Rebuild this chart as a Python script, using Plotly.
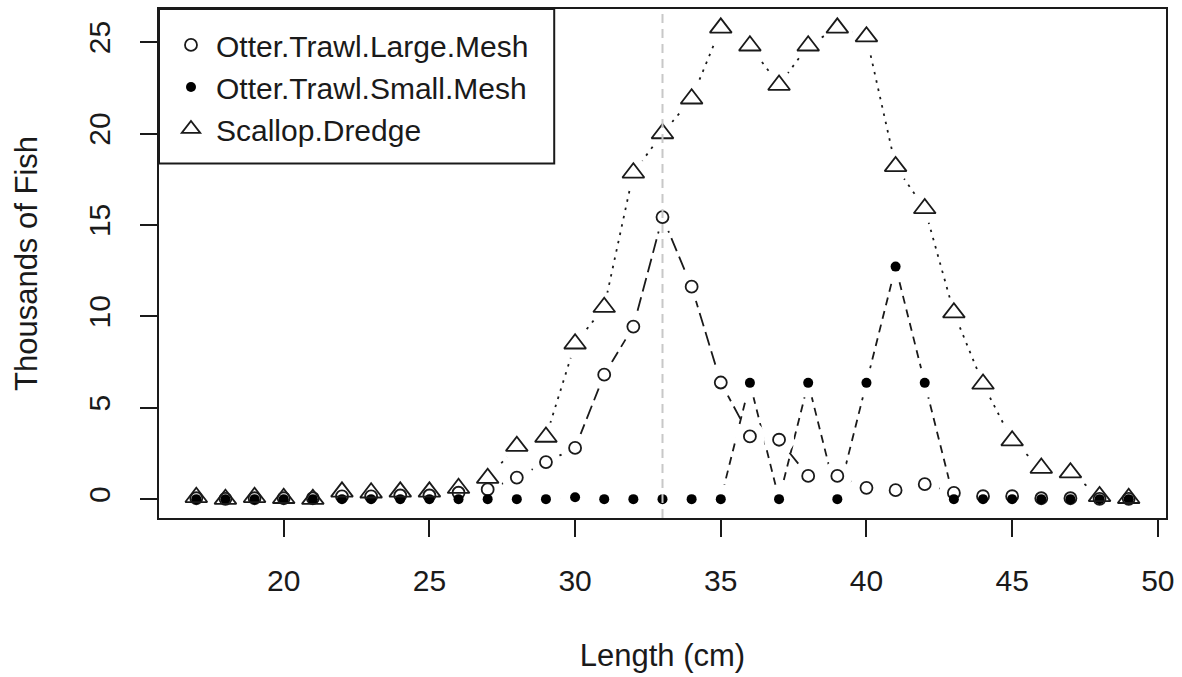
import plotly.graph_objects as go

# ---- data ----
lengths = list(range(17, 50))

large_mesh = [0.05, 0.02, 0.05, 0.05, 0.05, 0.15, 0.15, 0.2, 0.2, 0.35,
              0.53, 1.18, 2.03, 2.8, 6.81, 9.44, 15.43, 11.62, 6.38, 3.43,
              3.25, 1.27, 1.27, 0.62, 0.49, 0.82, 0.34, 0.16, 0.16, 0.05,
              0.05, 0.02, 0.02]

small_mesh = [0, 0, 0, 0, 0, 0, 0, 0, 0, 0,
              0, 0, 0, 0.1, 0, 0, 0, 0, 0, 6.36,
              0, 6.36, 0, 6.36, 12.72, 6.36, 0, 0, 0, 0,
              0, 0, 0]

scallop = [0.1, 0.0, 0.1, 0.05, 0.0, 0.4, 0.35, 0.4, 0.4, 0.6,
           1.15, 2.9, 3.4, 8.5, 10.5, 17.85, 20.0, 21.9, 25.78, 24.8,
           22.65, 24.8, 25.78, 25.3, 18.2, 15.9, 10.2, 6.3, 3.2, 1.7,
           1.45, 0.15, 0.05]

series_names = ["Otter.Trawl.Large.Mesh", "Otter.Trawl.Small.Mesh", "Scallop.Dredge"]
ref_length = 33
x_ticks = [20, 25, 30, 35, 40, 45, 50]
y_ticks = [0, 5, 10, 15, 20, 25]

FONT = "Liberation Sans, Arial, sans-serif"
INK = "#1a1a1a"

series = [
    dict(name=series_names[0], y=large_mesh, dash="14px,6px",
         marker=dict(symbol="circle-open", size=12, color=INK, line=dict(width=1.8, color=INK))),
    dict(name=series_names[1], y=small_mesh, dash="8px,6px",
         marker=dict(symbol="circle", size=10, color="black", line=dict(width=0))),
    dict(name=series_names[2], y=scallop, dash="2.5px,6px",
         marker=dict(symbol="triangle-up-open", size=19, color=INK, line=dict(width=1.8, color=INK))),
]
HALO = 30

fig = go.Figure()

# connecting lines
for s in series:
    fig.add_trace(go.Scatter(x=lengths, y=s["y"], mode="lines", showlegend=False,
                             hoverinfo="skip",
                             line=dict(color=INK, width=1.8, dash=s["dash"])))
# white halos to make the gaps around points (R type="b")
for s in series:
    fig.add_trace(go.Scatter(x=lengths, y=s["y"], mode="markers", showlegend=False,
                             hoverinfo="skip",
                             marker=dict(symbol="circle", size=HALO, color="white",
                                         line=dict(width=0))))
# points
for s in series:
    fig.add_trace(go.Scatter(x=lengths, y=s["y"], mode="markers", name=s["name"],
                             marker=s["marker"]))

# reference line
fig.add_shape(type="line", x0=ref_length, x1=ref_length, xref="x", y0=0, y1=1, yref="paper",
              layer="above", line=dict(color="#c8c8c8", width=2, dash="9px,6px"))
# legend frame
fig.add_shape(type="rect", xref="paper", yref="paper", x0=0, x1=396 / 1009,
              y0=1 - 155 / 511, y1=1, layer="above",
              fillcolor="white", line=dict(color=INK, width=2))

axis_common = dict(showgrid=False, zeroline=False, showline=True, mirror=True,
                   linecolor=INK, linewidth=2, ticks="outside", ticklen=17,
                   tickwidth=1.6, tickcolor=INK,
                   tickfont=dict(family=FONT, size=30, color=INK))

fig.update_layout(
    width=1182, height=677,
    margin=dict(l=159, r=14, t=7, b=159),
    plot_bgcolor="white", paper_bgcolor="white",
    font=dict(family=FONT, size=30, color=INK),
    xaxis=dict(range=[15.72, 50.28], tickvals=x_ticks, ticklabelstandoff=18,
               title=dict(text="Length (cm)", font=dict(family=FONT, size=31, color=INK),
                          standoff=48),
               **axis_common),
    yaxis=dict(range=[-1.031, 26.81], tickvals=y_ticks, tickangle=-90, ticklabelstandoff=18,
               title=dict(text="Thousands of Fish", font=dict(family=FONT, size=31, color=INK),
                          standoff=36),
               **axis_common),
    legend=dict(x=7 / 1009, y=1 - 10 / 511, xanchor="left", yanchor="top",
                bgcolor="rgba(0,0,0,0)", borderwidth=0, itemwidth=40,
                font=dict(family=FONT, size=30, color=INK),
                itemsizing="trace"),
    showlegend=True,
)

fig.write_html("out.html", config={"displayModeBar": False},
               post_script="document.body.style.margin='0';document.body.style.overflow='hidden';")
